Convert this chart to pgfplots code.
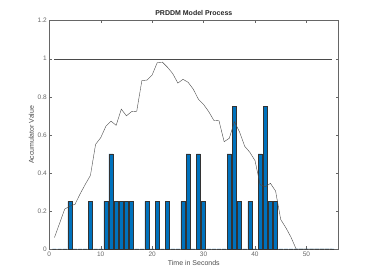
\documentclass[border=0pt]{standalone}
\usepackage{pgfplots}
\pgfplotsset{compat=1.18}
\usepackage{fontspec}
\setmainfont{Liberation Sans}
\usetikzlibrary{calc}
\definecolor{mblue}{HTML}{0072BD}
\definecolor{axgray}{HTML}{666666}
\definecolor{lngray}{HTML}{4A4A4A}
\begin{document}
\begin{tikzpicture}
\begin{axis}[
  scale only axis,
  width=289pt, height=228.3pt,
  xmin=0, xmax=56.2, ymin=0, ymax=1.2,
  xtick={0,10,20,30,40,50},
  ytick={0,0.2,0.4,0.6,0.8,1,1.2},
  yticklabels={0,0.2,0.4,0.6,0.8,1,1.2},
  /pgf/number format/assume math mode=true,
  tick align=inside,
  major tick length=2.5pt,
  axis line style={axgray, line width=0.5pt},
  every tick/.style={axgray, line width=0.4pt},
  tick label style={font=\fontsize{6.5}{7}\selectfont, text=axgray},
  xticklabel style={yshift=1pt},
  yticklabel style={xshift=1pt},
  title={\textbf{PRDDM Model Process}},
  title style={font=\fontsize{7}{8}\selectfont, text=black!85, yshift=-4pt},
  xlabel={Time in Seconds},
  ylabel={Accumulator Value},
  label style={font=\fontsize{7}{8}\selectfont, text=black!70},
  xlabel style={yshift=3pt},
  ylabel style={yshift=-3pt},
  clip=false,
]
\addplot[ybar, bar width=0.8, fill=mblue, draw=black!80, line width=0.3pt] coordinates {
(1,0) (2,0) (3,0) (4,0.25) (5,0) (6,0) (7,0) (8,0.25) (9,0) (10,0)
(11,0.25) (12,0.5) (13,0.25) (14,0.25) (15,0.25) (16,0.25) (17,0) (18,0) (19,0.25) (20,0)
(21,0.25) (22,0) (23,0.25) (24,0) (25,0) (26,0.25) (27,0.5) (28,0) (29,0.5) (30,0.25)
(31,0) (32,0) (33,0) (34,0) (35,0.5) (36,0.75) (37,0.25) (38,0) (39,0.25) (40,0)
(41,0.5) (42,0.75) (43,0.25) (44,0.25) (45,0) (46,0) (47,0) (48,0) (49,0) (50,0)
(51,0) (52,0) (53,0) (54,0) (55,0)
};
\addplot[lngray, line width=0.4pt, mark=none] coordinates {
(1,0.06) (2,0.135) (3,0.21) (4,0.225) (5,0.235) (6,0.29) (7,0.34) (8,0.387)
(9,0.55) (10,0.585) (11,0.645) (12,0.672) (13,0.65) (14,0.735) (15,0.70)
(16,0.722) (17,0.724) (18,0.885) (19,0.888) (20,0.915) (21,0.98) (22,0.982)
(23,0.955) (24,0.922) (25,0.872) (26,0.892) (27,0.876) (28,0.84) (29,0.787)
(30,0.76) (31,0.722) (32,0.676) (33,0.674) (34,0.564) (35,0.582) (36,0.669)
(37,0.615) (38,0.54) (39,0.508) (40,0.465) (41,0.338) (42,0.327) (43,0.345)
(44,0.305) (45,0.155) (46,0.112) (47,0.062) (48,0) (49,0) (50,0) (51,0)
(52,0) (53,0) (54,0) (55,0)
};
\addplot[lngray, line width=0.4pt, mark=none] coordinates {(1,1) (55,1)};
\coordinate (sw) at (rel axis cs:0,0);
\coordinate (ne) at (rel axis cs:1,1);
\end{axis}
\path ($(sw)+(-49.3pt,-31pt)$) rectangle ($(ne)+(35.7pt,20.7pt)$);
\end{tikzpicture}
\end{document}
